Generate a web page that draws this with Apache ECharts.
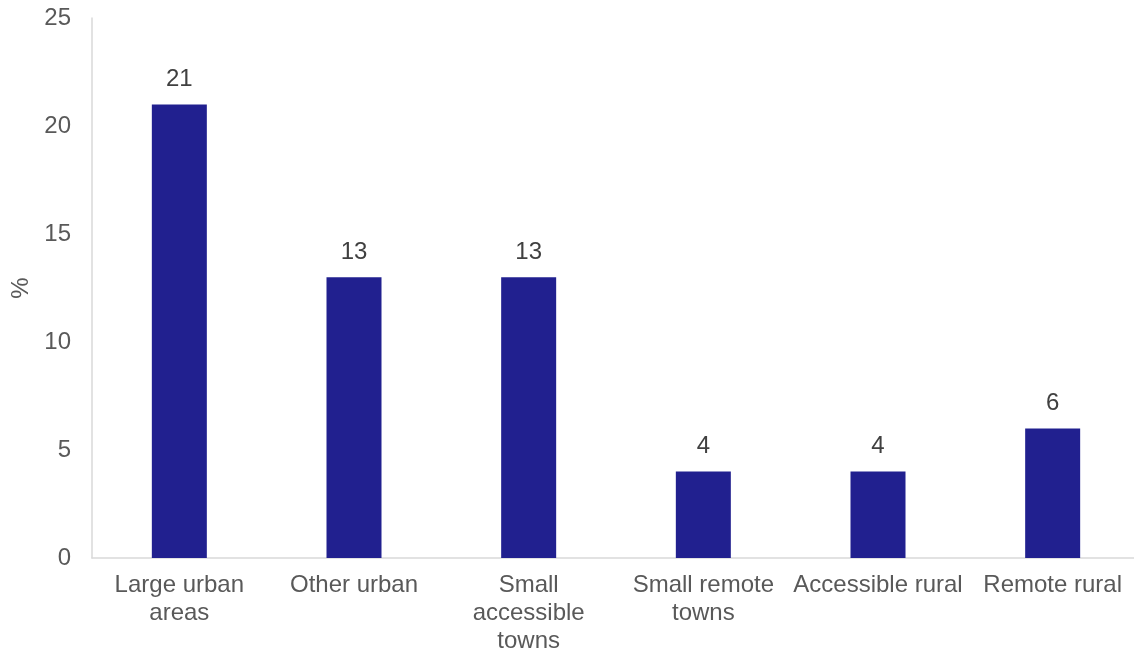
<!DOCTYPE html>
<html>
<head>
<meta charset="utf-8">
<script src="https://cdn.jsdelivr.net/npm/echarts@6/dist/echarts.min.js"></script>
<style>html,body{margin:0;padding:0;background:#fff;}#c{width:1134px;height:652px;}</style>
</head>
<body>
<div id="c"></div>
<script>
const categories = ["Large urban\nareas", "Other urban", "Small\naccessible\ntowns", "Small remote\ntowns", "Accessible rural", "Remote rural"];
const values = [21, 13, 13, 4, 4, 6];
const yTicks = { min: 0, max: 25, interval: 5 };
const yName = "%";

const chart = echarts.init(document.getElementById('c'), null, { renderer: 'canvas' });
const font = 'Liberation Sans, Arial, sans-serif';
chart.setOption({
  animation: false,
  backgroundColor: '#ffffff',
  grid: { left: 92, width: 1048, top: 18, height: 540, containLabel: false, outerBoundsMode: 'none' },
  xAxis: {
    type: 'category',
    data: categories,
    axisLine: { show: true, lineStyle: { color: '#d9d9d9', width: 1.5 } },
    axisTick: { show: false },
    axisLabel: { color: '#595959', fontSize: 24, fontFamily: font, lineHeight: 28, margin: 13, interval: 0 }
  },
  yAxis: {
    type: 'value',
    min: yTicks.min, max: yTicks.max, interval: yTicks.interval,
    name: yName,
    nameLocation: 'middle',
    nameGap: 50,
    nameRotate: 90,
    nameTextStyle: { color: '#595959', fontSize: 24, fontFamily: font },
    axisLine: { show: true, lineStyle: { color: '#d9d9d9', width: 1.5 } },
    axisTick: { show: false },
    splitLine: { show: false },
    axisLabel: { color: '#595959', fontSize: 24, fontFamily: font, margin: 21 }
  },
  series: [{
    type: 'bar',
    data: values,
    barWidth: 55,
    itemStyle: { color: '#21208f' },
    label: { show: true, position: 'top', distance: 13, color: '#404040', fontSize: 24, fontFamily: font }
  }]
});
</script>
</body>
</html>
